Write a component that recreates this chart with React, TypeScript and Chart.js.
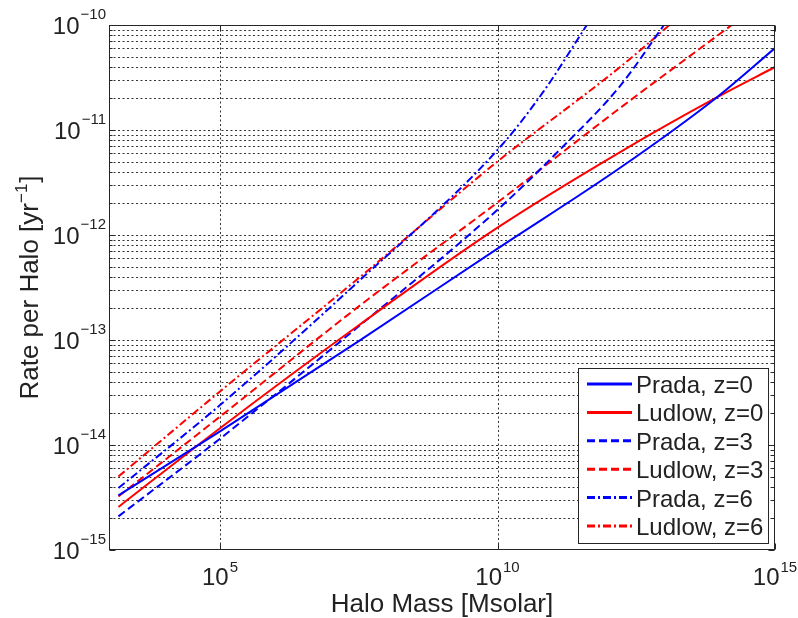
import React, { useEffect, useRef } from "react";
import { Chart, registerables } from "chart.js";

Chart.register(...registerables);

// ---- axis ticks (exponents of ten) ----
const xTickExponents = [5, 10, 15];
const yTickExponents = [-15, -14, -13, -12, -11, -10];
const minorMultipliers = [2, 3, 4, 5, 6, 7, 8, 9];

const xTitle = "Halo Mass [Msolar]";
const yTitleMain = "Rate per Halo [yr";
const yTitleSup = "\u22121";
const yTitleEnd = "]";

// ---- series (log10 of halo mass, log10 of rate) ----
const seriesLabels = ["Prada, z=0", "Ludlow, z=0", "Prada, z=3", "Ludlow, z=3", "Prada, z=6", "Ludlow, z=6"];

const pradaZ0LogMass = [3.17, 5, 7.5, 10, 12.21, 13.95, 15];
const pradaZ0LogRate = [-14.48, -13.87, -13.01, -12.13, -11.36, -10.69, -10.22];

const ludlowZ0LogMass = [3.17, 5, 7.5, 10, 12.21, 13.95, 15];
const ludlowZ0LogRate = [-14.59, -13.84, -12.86, -11.93, -11.21, -10.69, -10.4];

const pradaZ3LogMass = [3.17, 5, 7.5, 10, 11.1, 12.21, 13.0];
const pradaZ3LogRate = [-14.68, -13.94, -12.87, -11.76, -11.2, -10.58, -10.0];

const ludlowZ3LogMass = [3.17, 5, 7.5, 10, 12.21, 14.22];
const ludlowZ3LogRate = [-14.49, -13.73, -12.68, -11.69, -10.79, -10.0];

const pradaZ6LogMass = [3.17, 5, 7.5, 10, 10.82, 11.61];
const pradaZ6LogRate = [-14.41, -13.62, -12.44, -11.19, -10.64, -10.0];

const ludlowZ6LogMass = [3.17, 5, 7.5, 10, 12.21, 13.1];
const ludlowZ6LogRate = [-14.3, -13.49, -12.41, -11.3, -10.4, -10.0];

const seriesMass = [pradaZ0LogMass, ludlowZ0LogMass, pradaZ3LogMass, ludlowZ3LogMass, pradaZ6LogMass, ludlowZ6LogMass];
const seriesRate = [pradaZ0LogRate, ludlowZ0LogRate, pradaZ3LogRate, ludlowZ3LogRate, pradaZ6LogRate, ludlowZ6LogRate];

const BLUE = "#0000ff";
const RED = "#ff0000";
const seriesColors = [BLUE, RED, BLUE, RED, BLUE, RED];
const DASHED = [8, 4];
const DASHDOT = [8, 3, 2, 3];
const seriesDashes = [[], [], DASHED, DASHED, DASHDOT, DASHDOT];

const FONT = '"Liberation Sans", Arial, Helvetica, sans-serif';
const TEXT_COLOR = "#222";

function drawPower(ctx: CanvasRenderingContext2D, base: string, sup: string, x: number, baseY: number, supY: number, align: "center" | "right") {
  ctx.font = `24px ${FONT}`;
  const wb = ctx.measureText(base).width;
  ctx.font = `15px ${FONT}`;
  const ws = ctx.measureText(sup).width;
  const total = wb + 1 + ws;
  const start = align === "center" ? x - total / 2 : x - total;
  ctx.textAlign = "left";
  ctx.textBaseline = "alphabetic";
  ctx.font = `24px ${FONT}`;
  ctx.fillText(base, start, baseY);
  ctx.font = `15px ${FONT}`;
  ctx.fillText(sup, start + wb + 1, supY);
}

const framePlugin = {
  id: "matlabFrame",
  beforeDatasetsDraw(chart: any) {
    const { ctx, chartArea: a, scales } = chart;
    const xs = scales.x;
    const ys = scales.y;
    ctx.save();
    ctx.strokeStyle = "rgba(0,0,0,0.8)";
    ctx.lineWidth = 1;
    ctx.setLineDash([2, 2.5]);
    for (let i = 0; i < yTickExponents.length - 1; i++) {
      const e = yTickExponents[i];
      for (const m of [1, ...minorMultipliers]) {
        if (i === 0 && m === 1) continue;
        const py = Math.round(ys.getPixelForValue(m * Math.pow(10, e))) + 0.5;
        ctx.beginPath();
        ctx.moveTo(a.left, py);
        ctx.lineTo(a.right, py);
        ctx.stroke();
      }
    }
    for (const e of xTickExponents) {
      const px = Math.round(xs.getPixelForValue(Math.pow(10, e))) + 0.5;
      if (px >= a.right - 1) continue;
      ctx.beginPath();
      ctx.moveTo(px, a.top);
      ctx.lineTo(px, a.bottom);
      ctx.stroke();
    }
    ctx.restore();
  },
  afterDatasetsDraw(chart: any) {
    const { ctx, chartArea: a, scales } = chart;
    const xs = scales.x;
    const ys = scales.y;
    ctx.save();
    ctx.setLineDash([]);
    ctx.strokeStyle = "#262626";
    ctx.lineWidth = 1;
    const L = Math.round(a.left) + 0.5;
    const R = Math.round(a.right) - 0.5;
    const T = Math.round(a.top) + 0.5;
    const B = Math.round(a.bottom) - 0.5;
    ctx.strokeRect(L, T, R - L, B - T);

    // y ticks
    for (let i = 0; i < yTickExponents.length; i++) {
      const e = yTickExponents[i];
      const mults = i < yTickExponents.length - 1 ? [1, ...minorMultipliers] : [1];
      for (const m of mults) {
        const py = Math.round(ys.getPixelForValue(m * Math.pow(10, e))) + 0.5;
        const len = m === 1 ? 6 : 3;
        ctx.beginPath();
        ctx.moveTo(L, py);
        ctx.lineTo(L + len, py);
        ctx.moveTo(R, py);
        ctx.lineTo(R - len, py);
        ctx.stroke();
      }
    }
    // x ticks
    for (const e of xTickExponents) {
      const px = Math.round(xs.getPixelForValue(Math.pow(10, e))) + 0.5;
      ctx.beginPath();
      ctx.moveTo(px, B);
      ctx.lineTo(px, B - 6);
      ctx.moveTo(px, T);
      ctx.lineTo(px, T + 6);
      ctx.stroke();
    }

    // tick labels
    ctx.fillStyle = TEXT_COLOR;
    for (const e of xTickExponents) {
      const px = xs.getPixelForValue(Math.pow(10, e));
      drawPower(ctx, "10", String(e), px, a.bottom + 35, a.bottom + 22, "center");
    }
    for (const e of yTickExponents) {
      const py = ys.getPixelForValue(Math.pow(10, e));
      drawPower(ctx, "10", "\u2212" + String(-e), a.left - 3, py + 9, py - 6, "right");
    }

    // x title
    ctx.font = `26px ${FONT}`;
    ctx.textAlign = "center";
    ctx.textBaseline = "alphabetic";
    ctx.fillText(xTitle, (a.left + a.right) / 2, a.bottom + 62);

    // y title (rotated)
    ctx.save();
    ctx.translate(38, (a.top + a.bottom) / 2);
    ctx.rotate(-Math.PI / 2);
    ctx.font = `26px ${FONT}`;
    const w1 = ctx.measureText(yTitleMain).width;
    const w3 = ctx.measureText(yTitleEnd).width;
    ctx.font = `17px ${FONT}`;
    const w2 = ctx.measureText(yTitleSup).width;
    const tot = w1 + w2 + w3 + 1;
    let sx = -tot / 2;
    ctx.textAlign = "left";
    ctx.font = `26px ${FONT}`;
    ctx.fillText(yTitleMain, sx, 0);
    sx += w1;
    ctx.font = `17px ${FONT}`;
    ctx.fillText(yTitleSup, sx, -11);
    sx += w2 + 1;
    ctx.font = `26px ${FONT}`;
    ctx.fillText(yTitleEnd, sx, 0);
    ctx.restore();

    // legend
    const lx = 578.5, ly = 368.5, lw = 190, lh = 175;
    ctx.fillStyle = "#fff";
    ctx.fillRect(lx, ly, lw, lh);
    ctx.strokeStyle = "#262626";
    ctx.lineWidth = 1;
    ctx.strokeRect(lx, ly, lw, lh);
    chart.data.datasets.forEach((ds: any, i: number) => {
      const cy = 384 + i * 28.4;
      ctx.strokeStyle = ds.borderColor;
      ctx.lineWidth = 3;
      ctx.setLineDash(ds.borderDash || []);
      ctx.beginPath();
      ctx.moveTo(587, cy);
      ctx.lineTo(632, cy);
      ctx.stroke();
      ctx.setLineDash([]);
      ctx.fillStyle = TEXT_COLOR;
      ctx.font = `24px ${FONT}`;
      ctx.textAlign = "left";
      ctx.textBaseline = "alphabetic";
      ctx.fillText(ds.label, 636, cy + 9);
    });
    ctx.restore();
  },
};

export default function App() {
  const canvasRef = useRef<HTMLCanvasElement | null>(null);

  useEffect(() => {
    document.body.style.margin = "0";
    const canvas = canvasRef.current;
    if (!canvas) return;
    const datasets = seriesLabels.map((label, i) => ({
      label,
      data: seriesMass[i].map((m, j) => ({ x: Math.pow(10, m), y: Math.pow(10, seriesRate[i][j]) })),
      borderColor: seriesColors[i],
      backgroundColor: seriesColors[i],
      borderWidth: 2,
      borderDash: seriesDashes[i],
      pointRadius: 0,
      fill: false,
      cubicInterpolationMode: "monotone" as const,
      clip: 0,
    }));
    const chart = new Chart(canvas, {
      type: "line",
      data: { datasets },
      options: {
        animation: false,
        responsive: false,
        devicePixelRatio: 1,
        parsing: false as any,
        layout: { padding: { left: 109, top: 25, right: 23, bottom: 68 } },
        plugins: { legend: { display: false }, tooltip: { enabled: false } },
        scales: {
          x: { type: "logarithmic", min: 1e3, max: 1e15, display: false },
          y: { type: "logarithmic", min: 1e-15, max: 1e-10, display: false },
        },
      },
      plugins: [framePlugin],
    });
    return () => chart.destroy();
  }, []);

  return (
    <div style={{ position: "absolute", left: 0, top: 0, width: 798, height: 618, background: "#fff" }}>
      <canvas ref={canvasRef} width={798} height={618} style={{ display: "block", width: 798, height: 618 }} />
    </div>
  );
}
